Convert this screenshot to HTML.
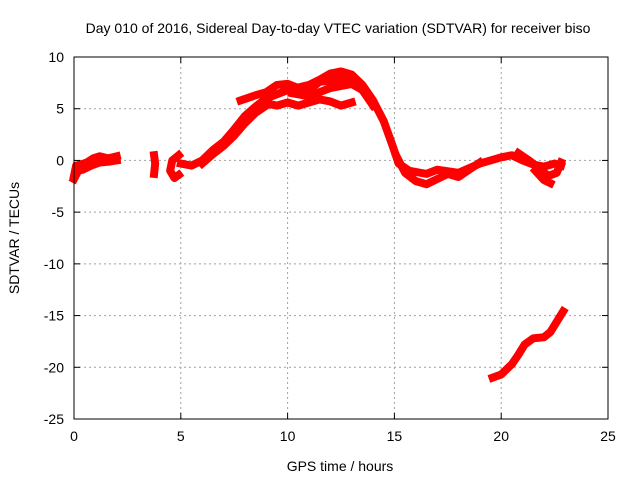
<!DOCTYPE html>
<html><head><meta charset="utf-8"><style>
body{margin:0;background:#fff;font-family:"Liberation Sans",sans-serif}
svg text{font-family:"Liberation Sans",sans-serif;font-size:14px;fill:#000}
</style></head><body>
<svg id="chart" width="640" height="480" xmlns="http://www.w3.org/2000/svg">
<text x="338" y="33" text-anchor="middle">Day 010 of 2016, Sidereal Day-to-day VTEC variation (SDTVAR) for receiver biso</text>
<text x="340" y="471" text-anchor="middle">GPS time / hours</text>
<text transform="translate(19,238) rotate(-90)" text-anchor="middle">SDTVAR / TECUs</text>
<g id="grid"></g><g id="marks"></g>
<rect x="74" y="57" width="534" height="362" fill="none" stroke="#000" stroke-width="1"/>
<g id="ticks"></g>
</svg>
<script>
const xTicks=[0,5,10,15,20,25];
const yTicks=[10,5,0,-5,-10,-15,-20,-25];
const seriesA=[[0,-1.5],[0.1,-0.5],[0.3,-0.4],[0.6,-0.2],[0.9,0.2],[1.2,0.4],[1.6,0.2],[2,0.4]];
const seriesA2=[[0,-1.8],[0.2,-1],[0.4,-0.9],[0.8,-0.5],[1.2,-0.2],[1.7,-0.1],[2,0]];
const seriesB=[[3.75,0.5],[3.8,-0.3],[3.75,-1.3]];
const seriesC=[[4.9,0.5],[4.6,0],[4.5,-1],[4.7,-1.7],[4.9,-1.4]];
const seriesMain=[[5,-0.3],[5.5,-0.5],[6,0],[6.5,1],[7,1.8],[7.5,3],[8,4.3],[8.5,5.2],[9,6],[10,6.8],[11,7.3],[11.5,7.8],[12,8.4],[12.5,8.6],[13,8.3],[13.5,7.3],[14,5.8],[14.5,3.8],[14.9,1.5],[15.2,-0.3],[15.7,-1],[16.5,-1.3],[17,-0.9],[18,-1.2],[19,-0.3],[20,0.3],[20.5,0.5],[21,0],[21.5,-0.4],[22,-0.6],[22.5,-0.3],[22.8,-0.5]];
const seriesMain2=[[6,-0.3],[6.5,0.6],[7,1.4],[7.5,2.4],[8,3.6],[8.5,4.6],[9,5.3]];
const seriesUpper=[[7.8,5.8],[8.5,6.3],[9,6.6],[9.5,7.3],[10,7.4],[10.5,7],[11,6.8],[11.5,7.6],[12,7.7],[12.5,7.9],[13,7.6]];
const seriesLower=[[9,5.5],[9.5,5.3],[10,5.6],[10.5,5.3],[11,5.6],[11.5,5.9],[12,5.7],[12.5,5.3],[13,5.6]];
const seriesLower2=[[10.2,6.5],[11,6.2],[12,7],[13,7.4],[13.5,6.8],[14,5.3]];
const seriesFall2=[[15.1,0.4],[15.5,-1.2],[16,-2],[16.5,-2.3],[17,-1.8],[17.5,-1.3],[18,-1.6],[18.5,-0.9],[19,-0.2]];
const seriesTail2=[[20.8,0.7],[21.3,0],[21.8,-0.8],[22.2,-1.5],[22.6,-1.2],[22.8,-0.2]];
const seriesTail3=[[21.6,-1],[22,-1.9],[22.3,-2.2]];
const seriesBottom=[[19.6,-21],[20,-20.7],[20.5,-19.7],[20.8,-18.8],[21.1,-17.8],[21.5,-17.2],[22,-17.1],[22.3,-16.6],[22.6,-15.6],[22.9,-14.6]];
const allSeries=[seriesA,seriesA2,seriesB,seriesC,seriesMain,seriesMain2,seriesUpper,seriesLower,seriesLower2,seriesFall2,seriesTail2,seriesTail3,seriesBottom];
const X0=74,X1=608,Y0=57,Y1=419;
function sx(v){return X0+(v-0)/(25-0)*(X1-X0);}
function sy(v){return Y0+(10-v)/(10-(-25))*(Y1-Y0);}
const NS="http://www.w3.org/2000/svg";
const grid=document.getElementById('grid'),ticks=document.getElementById('ticks'),marks=document.getElementById('marks');
function mk(t,a,p){const e=document.createElementNS(NS,t);for(const k in a)e.setAttribute(k,a[k]);p.appendChild(e);return e;}
xTicks.forEach(t=>{const x=sx(t);
 if(t>0&&t<25){const g=mk('line',{x1:x,x2:x,y1:Y0,y2:Y1,stroke:'#a0a0a0','stroke-dasharray':'2,3'},grid);
 
 }
 mk('line',{x1:x,x2:x,y1:Y1,y2:Y1-6,stroke:'#000'},ticks);mk('line',{x1:x,x2:x,y1:Y0,y2:Y0+6,stroke:'#000'},ticks);
 const l=mk('text',{x:x,y:Y1+22,'text-anchor':'middle'},ticks);l.textContent=t;
 
 });
yTicks.forEach(t=>{const y=sy(t);
 if(t<10&&t>-25){const g=mk('line',{x1:X0,x2:X1,y1:y,y2:y,stroke:'#a0a0a0','stroke-dasharray':'2,3'},grid);
 
 }
 mk('line',{x1:X0,x2:X0+6,y1:y,y2:y,stroke:'#000'},ticks);mk('line',{x1:X1,x2:X1-6,y1:y,y2:y,stroke:'#000'},ticks);
 const l=mk('text',{x:X0-10,y:y+5,'text-anchor':'end'},ticks);l.textContent=t;
 
 });
allSeries.forEach(s=>{const p=mk('polyline',{points:s.map(d=>sx(d[0])+','+sy(d[1])).join(' '),fill:'none',stroke:'#ff0000','stroke-width':8,'stroke-linejoin':'round','stroke-linecap':'square'},marks);
 
 });
</script>
</body></html>
